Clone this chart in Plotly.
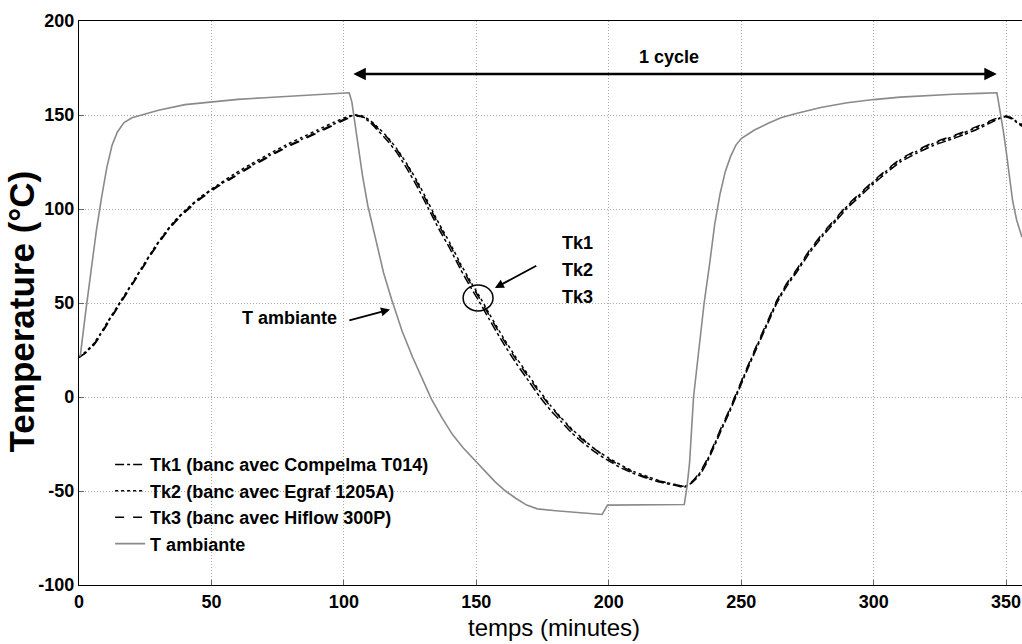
import plotly.graph_objects as go

# --- data ---
amb_x = [0, 0.5, 2.5, 4.5, 6.5, 8.5, 10.5, 12.5, 14.5, 17, 20, 25, 30, 40, 50, 60, 70, 80, 90, 101, 102,
         103, 105, 107, 109, 112, 115, 118, 122, 126, 130, 133, 137, 141, 145, 149, 153, 157, 161, 165, 169,
         173, 180, 190, 197.5, 199.5, 210, 220, 228.5,
         229.5, 230.5, 232, 234, 236, 238, 240, 242, 244, 246, 248, 250, 255, 260, 265, 270, 280, 290, 300,
         310, 320, 330, 340, 346.5, 347, 348, 349, 350, 351, 352.5, 354, 356]
amb_y = [22, 22, 45, 68, 88, 106, 122, 134, 141, 146, 148.5, 150.5, 152.5, 155.5, 157, 158.3, 159.2, 160, 160.7, 161.5, 161.8,
         157, 138, 118, 102, 84, 66, 52, 35, 21, 8, -1, -11, -20, -27, -33, -39, -45, -50, -54, -57.5,
         -59.5, -60.5, -61.5, -62.5, -57.5, -57.3, -57.2, -57.2,
         -48, -35, 0, 25, 50, 70, 92, 108, 120, 128, 134, 137.5, 142, 145.5, 148.5, 150.5, 154, 156.5, 158.2,
         159.5, 160.4, 161, 161.5, 161.8, 158, 150, 141, 131, 120, 104, 94, 85]

tk_x = [0, 2, 5, 8, 11, 15.5, 20, 24, 28, 32, 36, 41, 46, 52, 58.5, 65, 72, 78, 84, 90, 96, 102, 104, 107,
        110, 112, 116, 120, 124, 128, 132, 136, 140, 144, 148, 151, 155, 160, 165, 170, 174, 178, 182, 186,
        190, 195, 200, 205, 210, 215, 220, 225, 228.5, 231, 233, 235, 237, 239, 241, 243, 245, 248, 252, 256,
        260, 263.5, 267, 271, 276, 281, 286, 290, 295, 300, 305, 310, 316, 322, 328, 334, 340, 345, 348, 350,
        352, 354, 356]
tk1_y = [21, 23, 27, 33, 40, 50, 60, 69, 78, 86, 93, 100, 106, 112, 117.5, 123, 128.5, 133, 137, 141, 145, 149, 150, 149,
         146, 143, 137, 130, 121, 111, 100, 89, 79, 68, 58, 51, 41, 29, 18, 8, 0, -7, -13, -19,
         -24, -29.5, -34, -38, -41, -43.5, -45.5, -47, -48, -46, -43.5, -40, -35, -29, -22.5, -16, -10, 0, 13.5, 26.5,
         39, 50, 58.5, 66.5, 77, 86, 94, 100.5, 107, 113.5, 119.5, 125, 129.5, 133.5, 136.5, 139.5, 143, 146.5, 148.5, 149,
         148, 146, 144]
tk2_y = [21, 23.5, 27.5, 33.5, 40.5, 50.5, 60.5, 69.5, 78.5, 86.5, 93.5, 100.5, 106.5, 112.5, 118.5, 124, 129.5, 134, 138, 142, 146, 149.5, 150, 149.5,
         147, 144.5, 139, 132, 123.5, 114, 103, 92, 82, 71, 61, 54, 44, 32, 21, 11, 3, -4.5, -11, -17,
         -22, -28, -32.5, -36.5, -40, -42.5, -45, -46.5, -47.5, -46, -43, -39, -34, -28, -21.5, -15, -9, 1, 14.5, 27.5,
         40, 51, 59.5, 67.5, 78, 87, 95, 101.5, 108, 114.5, 120.5, 126, 130.5, 134.5, 137.5, 140.5, 144, 147, 148.5, 149.5,
         148.5, 146.5, 144.5]
tk3_y = [21.5, 23, 26.5, 32.5, 39.5, 49.5, 59.5, 68.5, 77.5, 85.5, 92.5, 99.5, 105.5, 111.5, 117, 122.5, 128, 132.5, 136.5, 140.5, 144.5, 148.5, 149.5, 149,
         147, 144, 138.5, 131.5, 123, 113, 102, 91, 81, 70, 60, 53, 43, 31, 20, 10, 2, -5, -11.5, -17.5,
         -22.5, -28, -33, -37, -40.5, -43, -45, -46.5, -47.5, -45.5, -42.5, -38.5, -33.5, -27.5, -21, -14.5, -8.5, 1.5, 15, 28,
         40.5, 51.5, 60, 68, 78.5, 87.5, 95.5, 102, 108.5, 115, 121, 126.5, 131, 135, 138, 141, 144.5, 147.5, 149, 149.5,
         148.5, 147, 145]

names = ['Tk1 (banc avec Compelma T014)', 'Tk2 (banc avec Egraf 1205A)',
         'Tk3 (banc avec Hiflow 300P)', 'T ambiante']

x_ticks = [0, 50, 100, 150, 200, 250, 300, 350]
y_ticks = [-100, -50, 0, 50, 100, 150, 200]

FONT = 'Liberation Sans, Arial, sans-serif'
BOLD18 = dict(family=FONT, size=18, color='black', weight='bold')

fig = go.Figure()
for ys, name, dash in [(tk1_y, names[0], 'dashdot'), (tk2_y, names[1], 'dot'), (tk3_y, names[2], 'dash')]:
    fig.add_trace(go.Scatter(x=tk_x, y=ys, name=name, mode='lines',
                             line=dict(color='black', width=1.5, dash=dash, shape='spline', smoothing=0.5)))
fig.add_trace(go.Scatter(x=amb_x, y=amb_y, name=names[3], mode='lines',
                         line=dict(color='#8a8a8a', width=1.6)))

# double arrow "1 cycle"
fig.add_annotation(x=346.5, y=171.8, ax=103, ay=171.8, xref='x', yref='y', axref='x', ayref='y',
                   text='', showarrow=True, arrowhead=2, arrowside='end+start',
                   arrowsize=1, arrowwidth=2.5, arrowcolor='black')
fig.add_annotation(x=222.6, y=181, xref='x', yref='y', text='1 cycle', showarrow=False, font=BOLD18)

# Tk1/Tk2/Tk3 label, arrow and ellipse
for label, yy in [('Tk1', 81.9), ('Tk2', 67.6), ('Tk3', 53.2)]:
    fig.add_annotation(x=188.3, y=yy, xref='x', yref='y', text=label, showarrow=False, font=BOLD18)
fig.add_annotation(x=157, y=58, ax=173.2, ay=70.2, xref='x', yref='y', axref='x', ayref='y',
                   text='', showarrow=True, arrowhead=2, arrowsize=1, arrowwidth=1.8, arrowcolor='black')
fig.add_shape(type='circle', xref='x', yref='y', x0=145, x1=156.3, y0=45.8, y1=59.6,
              line=dict(color='black', width=1.5))

# T ambiante label and arrow
fig.add_annotation(x=98, y=42, xref='x', yref='y', text='T ambiante', showarrow=False, xanchor='right',
                   font=BOLD18)
fig.add_annotation(x=117.4, y=46.5, ax=101.5, ay=40.5, xref='x', yref='y', axref='x', ayref='y',
                   text='', showarrow=True, arrowhead=2, arrowsize=1, arrowwidth=1.8, arrowcolor='black')

# axis titles
fig.add_annotation(x=0.504, y=-0.076, xref='paper', yref='paper', text='temps (minutes)', showarrow=False,
                   xanchor='center', yanchor='middle', font=dict(family=FONT, size=24, color='black'))
fig.add_annotation(x=-0.0615, y=0.485, xref='paper', yref='paper', text='Temperature (°C)', showarrow=False,
                   xanchor='center', yanchor='middle', textangle=-90,
                   font=dict(family=FONT, size=35, color='black', weight='bold'))

grid = dict(showgrid=True, gridcolor='#a8a8a8', griddash='1px,2px', gridwidth=1, zeroline=False,
            showline=True, linecolor='black', linewidth=1.2, ticks='inside', ticklen=5,
            tickcolor='#666', tickfont=BOLD18, automargin=False)
fig.update_xaxes(range=[0, 356], tickvals=x_ticks, ticktext=[str(v) for v in x_ticks], mirror=True, **grid)
fig.update_yaxes(range=[-100, 200], tickvals=y_ticks, ticktext=[str(v) for v in y_ticks], mirror=False, **grid)

fig.update_layout(
    width=1022, height=644,
    margin=dict(l=79, r=0, t=21, b=59),
    paper_bgcolor='white', plot_bgcolor='white',
    legend=dict(x=0.033, y=0.246, xanchor='left', yanchor='top', bgcolor='rgba(0,0,0,0)',
                borderwidth=0, tracegroupgap=0, font=BOLD18),
)

# drop the default page margin so the figure fills the window exactly
fig.write_html("out.html", config={'displayModeBar': False},
               post_script="document.body.style.margin='0';")
